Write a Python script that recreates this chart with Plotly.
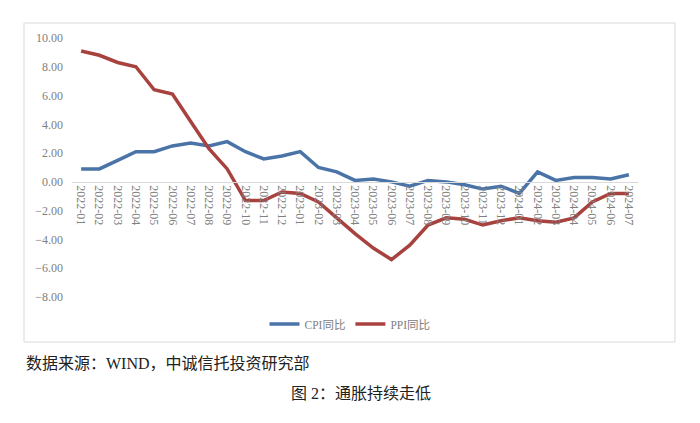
import plotly.graph_objects as go

months = [
    "2022-01", "2022-02", "2022-03", "2022-04", "2022-05", "2022-06",
    "2022-07", "2022-08", "2022-09", "2022-10", "2022-11", "2022-12",
    "2023-01", "2023-02", "2023-03", "2023-04", "2023-05", "2023-06",
    "2023-07", "2023-08", "2023-09", "2023-10", "2023-11", "2023-12",
    "2024-01", "2024-02", "2024-03", "2024-04", "2024-05", "2024-06",
    "2024-07",
]
cpi = [0.9, 0.9, 1.5, 2.1, 2.1, 2.5, 2.7, 2.5, 2.8, 2.1, 1.6, 1.8,
       2.1, 1.0, 0.7, 0.1, 0.2, 0.0, -0.3, 0.1, 0.0, -0.2, -0.5, -0.3,
       -0.8, 0.7, 0.1, 0.3, 0.3, 0.2, 0.5]
ppi = [9.1, 8.8, 8.3, 8.0, 6.4, 6.1, 4.2, 2.3, 0.9, -1.3, -1.3, -0.7,
       -0.8, -1.4, -2.5, -3.6, -4.6, -5.4, -4.4, -3.0, -2.5, -2.6, -3.0, -2.7,
       -2.5, -2.7, -2.8, -2.5, -1.4, -0.8, -0.8]
series_names = ["CPI同比", "PPI同比"]
source_text = "数据来源：WIND，中诚信托投资研究部"
caption_text = "图 2：通胀持续走低"

W, H = 700, 423
L, R, T, B = 72, 62, 38, 126
pw, ph = W - L - R, H - T - B

def px_x(x):
    return (x - L) / pw

def px_y(y):
    return (H - B - y) / ph

fig = go.Figure()
fig.add_trace(go.Scatter(x=months, y=cpi, name=series_names[0], mode="lines",
                         line=dict(color="#4A74A8", width=3.5)))
fig.add_trace(go.Scatter(x=months, y=ppi, name=series_names[1], mode="lines",
                         line=dict(color="#A8423F", width=3.5)))

fig.update_layout(
    width=W, height=H,
    margin=dict(l=L, r=R, t=T, b=B),
    paper_bgcolor="white", plot_bgcolor="white",
    font=dict(family="Liberation Serif, Noto Sans CJK SC", color="#808080", size=12),
    showlegend=True,
    legend=dict(orientation="h", x=px_x(350), xanchor="center",
                y=px_y(324), yanchor="middle",
                font=dict(size=11.5, color="#808080"),
                bgcolor="rgba(0,0,0,0)", itemwidth=30),
    xaxis=dict(type="category", range=[-0.5, 30.5], tickangle=90,
               showgrid=False, zeroline=False, showline=True,
               linecolor="#d9d9d9", linewidth=1, ticks="",
               anchor="free", position=8 / 18,
               tickfont=dict(size=12, color="#808080")),
    yaxis=dict(range=[-8, 10], dtick=2, tick0=0, tickformat=".2f",
               showgrid=False, zeroline=False, showline=False, ticks="",
               ticklabelstandoff=8,
               tickfont=dict(size=12, color="#808080")),
)

fig.add_shape(type="rect", xref="paper", yref="paper",
              x0=px_x(24), x1=px_x(675), y0=px_y(342), y1=px_y(23),
              line=dict(color="#d9d9d9", width=1), layer="below")

fig.add_annotation(text=source_text, xref="paper", yref="paper",
                   x=px_x(24), xanchor="left", y=px_y(363), yanchor="middle",
                   showarrow=False,
                   font=dict(size=16, color="#222222",
                             family="Liberation Serif, Noto Sans CJK SC"))
fig.add_annotation(text=caption_text, xref="paper", yref="paper",
                   x=px_x(361), xanchor="center", y=px_y(393), yanchor="middle",
                   showarrow=False,
                   font=dict(size=16, color="#222222",
                             family="Liberation Serif, Noto Sans CJK SC"))

fig.write_html("out.html")
